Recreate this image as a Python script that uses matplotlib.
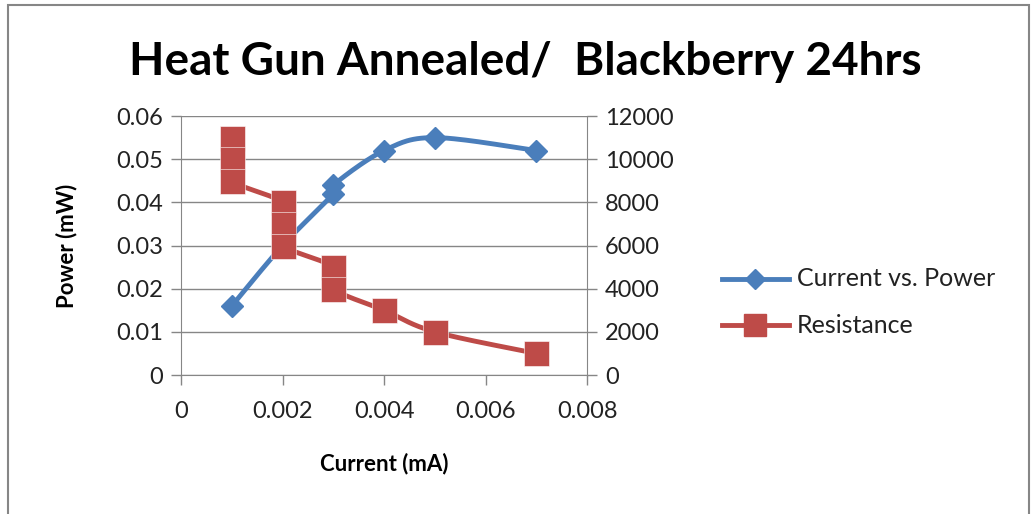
import matplotlib.pyplot as plt
import numpy as np
from matplotlib.patches import Rectangle

plt.rcParams['font.family'] = ['Lato', 'DejaVu Sans']

# data
current_p = [0.001, 0.002, 0.003, 0.003, 0.004, 0.005, 0.007]
power = [0.016, 0.030, 0.042, 0.044, 0.052, 0.055, 0.052]
p_marker = [True, False, True, True, True, True, True]

current_r = [0.001, 0.001, 0.001, 0.002, 0.002, 0.002, 0.003, 0.003, 0.004, 0.005, 0.007]
resistance = [11000, 10000, 9000, 8000, 7000, 6000, 5000, 4000, 3000, 2000, 1000]

xticks = [0, 0.002, 0.004, 0.006, 0.008]
xticklabels = ["0", "0.002", "0.004", "0.006", "0.008"]
pticks = [0, 0.01, 0.02, 0.03, 0.04, 0.05, 0.06]
pticklabels = ["0", "0.01", "0.02", "0.03", "0.04", "0.05", "0.06"]
rticks = [0, 2000, 4000, 6000, 8000, 10000, 12000]

blue = "#4a7ebb"
red = "#be4b48"
gray = "#868686"


def smooth(xs, ys, scale_y, n=30):
    # excel-like smoothed line (bezier through catmull-rom tangents)
    x = np.array(xs, float)
    y = np.array(ys, float) / scale_y
    x = x / 0.008
    px, py = [], []
    for i in range(len(x) - 1):
        p0 = np.array([x[max(i - 1, 0)], y[max(i - 1, 0)]])
        p1 = np.array([x[i], y[i]])
        p2 = np.array([x[i + 1], y[i + 1]])
        p3 = np.array([x[min(i + 2, len(x) - 1)], y[min(i + 2, len(x) - 1)]])
        c1 = p1 + (p2 - p0) / 6
        c2 = p2 - (p3 - p1) / 6
        t = np.linspace(0, 1, n)[:, None]
        pts = (1 - t) ** 3 * p1 + 3 * (1 - t) ** 2 * t * c1 + 3 * (1 - t) * t ** 2 * c2 + t ** 3 * p2
        px.extend(pts[:, 0])
        py.extend(pts[:, 1])
    return np.array(px) * 0.008, np.array(py) * scale_y


fig = plt.figure(figsize=(10.31, 5.14), dpi=100)
fig.patches.append(Rectangle((0.008, -0.01), 0.99, 1.0, transform=fig.transFigure,
                             fill=False, edgecolor=gray, linewidth=1.5))

ax = fig.add_axes([0.1756, 0.2704, 0.3938, 0.5039])
ax2 = ax.twinx()

ax.set_xlim(0, 0.008)
ax.set_ylim(0, 0.06)
ax2.set_ylim(0, 12000)

ax.set_yticks(pticks)
ax.set_yticklabels(pticklabels)
ax2.set_yticks(rticks)
ax2.set_yticklabels([str(v) for v in rticks])
ax.set_xticks(xticks)
ax.set_xticklabels(xticklabels)
ax.grid(axis="y", color=gray, linewidth=1)
ax.set_axisbelow(True)

for a in (ax, ax2):
    for s in a.spines.values():
        s.set_visible(False)
    a.tick_params(colors=gray, labelcolor="#222222", labelsize=17, width=1, length=7)
ax.spines["left"].set_visible(True)
ax.spines["left"].set_color(gray)
ax.spines["bottom"].set_visible(True)
ax.spines["bottom"].set_color(gray)
ax2.spines["right"].set_visible(True)
ax2.spines["right"].set_color(gray)
ax.tick_params(axis="x", pad=12)
ax.tick_params(axis="y", pad=6)
ax2.tick_params(axis="y", pad=6)

sx, sy = smooth(current_p, power, 0.06)
ax.plot(sx, sy, color=blue, linewidth=3.5, solid_capstyle="round", zorder=3)
mx = [c for c, m in zip(current_p, p_marker) if m]
my = [p for p, m in zip(power, p_marker) if m]
ax.plot(mx, my, linestyle="none", marker="D", markersize=11, color=blue, zorder=4)

rx, ry = smooth(current_r, resistance, 12000)
ax2.plot(rx, ry, color=red, linewidth=3.5, solid_capstyle="round", zorder=3)
ax2.plot(current_r, resistance, linestyle="none", marker="s", markersize=18,
         color=red, markeredgecolor="white", markeredgewidth=0.4, zorder=4)

ax.set_ylabel("Power (mW)", fontsize=16, fontweight="bold", labelpad=28)
ax.set_xlabel("Current (mA)", fontsize=16, fontweight="bold", labelpad=22)
fig.text(0.51, 0.88, "Heat Gun Annealed/  Blackberry 24hrs", fontsize=33,
         fontweight="bold", ha="center", va="center")

# legend
lx = [0.700, 0.765]
for yy, col, mk, ms, lab in [(0.458, blue, "D", 10, "Current vs. Power"),
                             (0.367, red, "s", 16, "Resistance")]:
    fig.add_artist(plt.Line2D(lx, [yy, yy], color=col, linewidth=3.5, transform=fig.transFigure))
    fig.add_artist(plt.Line2D([sum(lx) / 2], [yy], marker=mk, markersize=ms, color=col,
                              transform=fig.transFigure))
    fig.text(0.773, yy, lab, fontsize=18, va="center", color="#222222")

fig.savefig("out.png", dpi=100)
